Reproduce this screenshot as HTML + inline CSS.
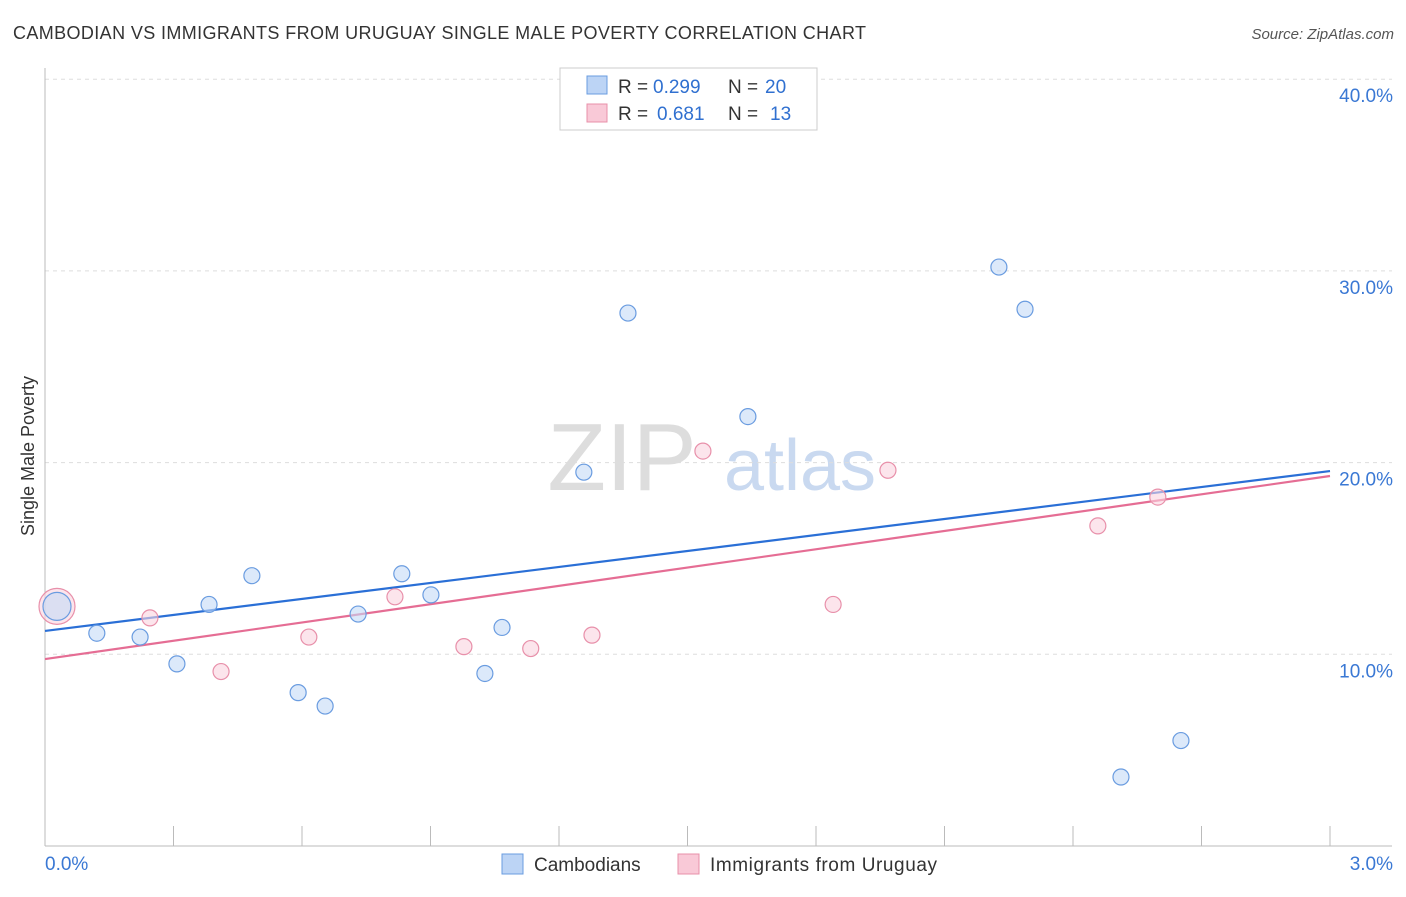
<!DOCTYPE html>
<html><head><meta charset="utf-8"><style>
body{margin:0;background:#fff;font-family:"Liberation Sans",sans-serif;}
svg text{font-family:"Liberation Sans",sans-serif;}
</style></head><body>
<svg id="c" width="1406" height="892">
<text x="13" y="39" font-size="18" fill="#333" textLength="853">CAMBODIAN VS IMMIGRANTS FROM URUGUAY SINGLE MALE POVERTY CORRELATION CHART</text>
<text x="1394" y="39" font-size="15" fill="#555" text-anchor="end" font-style="italic">Source: ZipAtlas.com</text>
<text x="34" y="456" font-size="18" fill="#333" text-anchor="middle" transform="rotate(-90 34 456)">Single Male Poverty</text>
<text x="622" y="490" font-size="96" fill="#ddd" font-family="Liberation Serif" text-anchor="middle">ZIP</text>
<text x="800" y="490" font-size="72" fill="#c9d9f0" text-anchor="middle">atlas</text>
<g id="grid"></g><g id="axes"></g><g id="lines"></g><g id="pts"></g>
<g>
<rect x="560" y="68" width="257" height="62" fill="#fff" stroke="#ccc"/>
<rect x="587" y="76" width="20" height="18" fill="#bcd4f5" stroke="#6a9ce0"/>
<text x="618" y="93" font-size="19" fill="#333">R =</text>
<text x="653" y="93" font-size="19" fill="#3070d0">0.299</text>
<text x="728" y="93" font-size="19" fill="#333">N =</text>
<text x="765" y="93" font-size="19" fill="#3070d0">20</text>
<rect x="587" y="104" width="20" height="18" fill="#f9c9d7" stroke="#e890aa"/>
<text x="618" y="120" font-size="19" fill="#333">R =</text>
<text x="657" y="120" font-size="19" fill="#3070d0">0.681</text>
<text x="728" y="120" font-size="19" fill="#333">N =</text>
<text x="770" y="120" font-size="19" fill="#3070d0">13</text>
</g>
<g>
<rect x="502" y="854" width="21" height="20" fill="#bcd4f5" stroke="#6a9ce0"/>
<text x="534" y="871" font-size="19" fill="#333">Cambodians</text>
<rect x="678" y="854" width="21" height="20" fill="#f9c9d7" stroke="#e890aa"/>
<text x="710" y="871" font-size="19" fill="#333" textLength="227">Immigrants from Uruguay</text>
</g>
</svg>
<script>
const yTicks=[10,20,30,40];
const yTickLabels=["10.0%","20.0%","30.0%","40.0%"];
const xTickLabels=["0.0%","3.0%"];
const blueX=[0.028,0.121,0.222,0.308,0.383,0.483,0.591,0.654,0.731,0.833,0.901,1.027,1.067,1.258,1.361,1.641,2.227,2.288,2.512,2.652];
const blueY=[12.5,11.1,10.9,9.5,12.6,14.1,8.0,7.3,12.1,14.2,13.1,9.0,11.4,19.5,27.8,22.4,30.2,28.0,3.6,5.5];
const pinkX=[0.028,0.245,0.411,0.616,0.817,0.978,1.134,1.277,1.536,1.840,1.968,2.458,2.598];
const pinkY=[12.5,11.9,9.1,10.9,13.0,10.4,10.3,11.0,20.6,12.6,19.6,16.7,18.2];
const trendX=[0,3];
const blueTrend=[11.22,19.56];
const pinkTrend=[9.75,19.3];
const X=v=>45+v/3*1285, Y=v=>846-v*19.17;
const NS="http://www.w3.org/2000/svg";
function mk(p,t,a){const e=document.createElementNS(NS,t);for(const k in a)e.setAttribute(k,a[k]);document.getElementById(p).appendChild(e);return e;}
yTicks.forEach((t,i)=>{
 const l=mk('grid','line',{x1:45,x2:1392,y1:Y(t),y2:Y(t),stroke:'#ddd','stroke-dasharray':'4,4'});
 
 
 const tx=mk('grid','text',{x:1393,y:Y(t)+23,'font-size':19,fill:'#3a78d4','text-anchor':'end'});tx.textContent=yTickLabels[i];
 
 
});
const ax=mk('axes','line',{x1:45,x2:1392,y1:846,y2:846,stroke:'#bbb'});


const ay=mk('axes','line',{x1:45,x2:45,y1:68,y2:846,stroke:'#bbb'});


for(let i=1;i<=10;i++){const t=mk('axes','line',{x1:X(i*0.3),x2:X(i*0.3),y1:826,y2:846,stroke:'#bbb'});
 
 }
xTickLabels.forEach((s,i)=>{const t=mk('axes','text',{x:i?1393:45,y:870,'font-size':19,fill:'#3a78d4','text-anchor':i?'end':'start'});t.textContent=s;
 
 });
[[blueTrend,'#2a6fd6','blue-trend-line'],[pinkTrend,'#e56d94','pink-trend-line']].forEach(([tr,c,n])=>{
 const l=mk('lines','line',{x1:X(trendX[0]),x2:X(trendX[1]),y1:Y(tr[0]),y2:Y(tr[1]),stroke:c,'stroke-width':2.2});
 
 
});
function pts(xs,ys,f,s,n,r0){xs.forEach((x,i)=>{const c=mk('pts','circle',{cx:X(x),cy:Y(ys[i]),r:i===0?r0:8,fill:f,stroke:s,'stroke-width':1.2,'fill-opacity':0.6});
 
 });}
pts(pinkX,pinkY,'#fad3df','#e890aa','uruguay-point',18);
pts(blueX,blueY,'#c4daf6','#6a9ce0','cambodian-point',14);
</script>
</body></html>
